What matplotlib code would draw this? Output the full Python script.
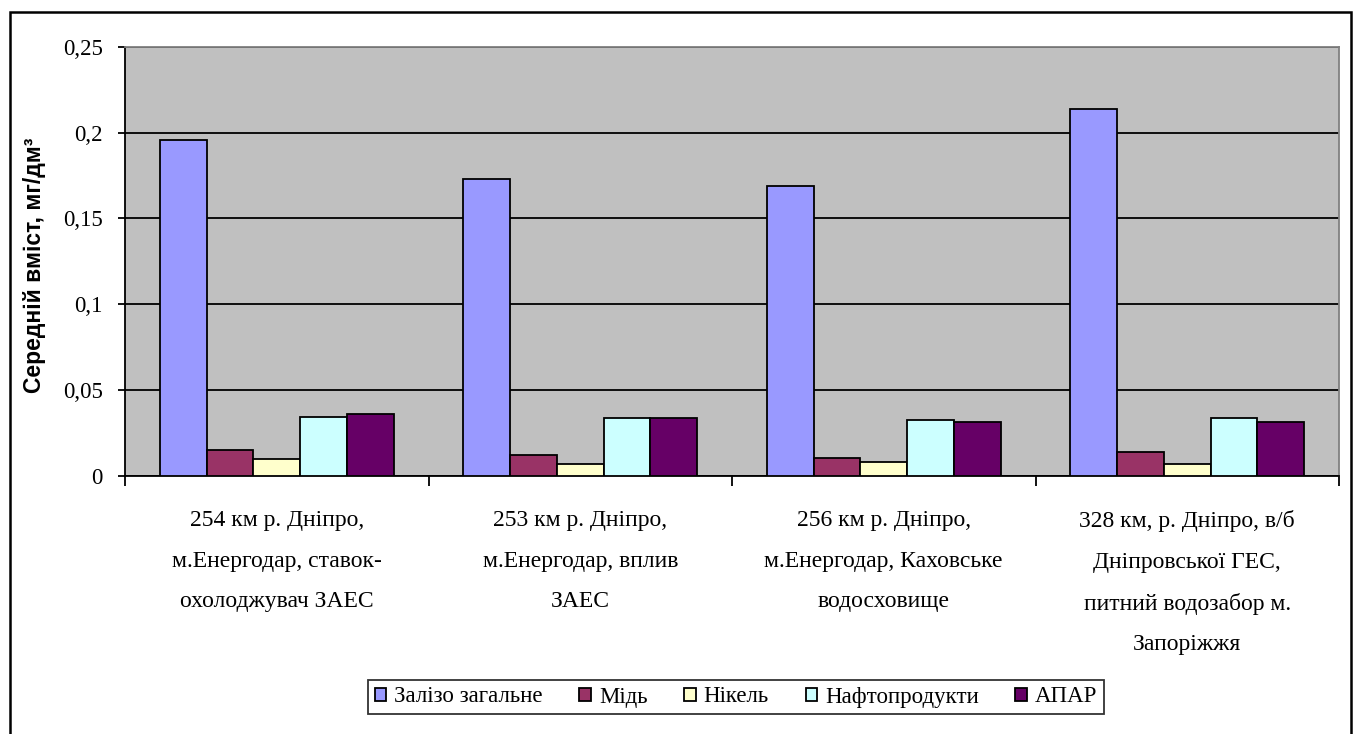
import matplotlib
matplotlib.use("Agg")
import matplotlib.pyplot as plt
import numpy as np
from matplotlib.patches import Rectangle

# Data
sites = [
    "254 км р. Дніпро,\nм.Енергодар, ставок-\nохолоджувач ЗАЕС",
    "253 км р. Дніпро,\nм.Енергодар, вплив\nЗАЕС",
    "256 км р. Дніпро,\nм.Енергодар, Каховське\nводосховище",
    "328 км, р. Дніпро, в/б\nДніпровської ГЕС,\nпитний водозабор м.\nЗапоріжжя",
]
series_names = ["Залізо загальне", "Мідь", "Нікель", "Нафтопродукти", "АПАР"]
iron = [0.196, 0.173, 0.169, 0.214]
copper = [0.015, 0.012, 0.0105, 0.0136]
nickel = [0.0096, 0.0066, 0.008, 0.0066]
oil = [0.034, 0.0338, 0.0323, 0.0338]
apar = [0.0358, 0.0338, 0.0313, 0.0313]
y_ticks = [0, 0.05, 0.1, 0.15, 0.2, 0.25]
y_tick_labels = ["0", "0,05", "0,1", "0,15", "0,2", "0,25"]

colors = ["#9999FF", "#993366", "#FFFFCC", "#CCFFFF", "#660066"]
series = [iron, copper, nickel, oil, apar]

serif = "Liberation Serif"

fig = plt.figure(figsize=(13.59, 7.34), dpi=100)
ax = fig.add_axes([125 / 1359, 1 - 475.7 / 734, (1339 - 125) / 1359, (475.7 - 47) / 734])
ax.set_facecolor("#C0C0C0")

x = np.arange(len(sites))
bar_w = 0.154
for i, (vals, col, name) in enumerate(zip(series, colors, series_names)):
    offset = (i - 2) * bar_w
    ax.bar(x + offset, vals, width=bar_w, color=col, edgecolor="black",
           linewidth=1.3, label=name, zorder=3)

ax.set_xlim(-0.5, len(sites) - 0.5)
ax.set_ylim(0, 0.25)

# gridlines
ax.set_yticks(y_ticks)
ax.set_yticklabels(y_tick_labels, fontfamily=serif, fontsize=16.5)
ax.yaxis.grid(True, color="black", linewidth=1.3, zorder=1)
ax.set_axisbelow(True)
ax.tick_params(axis="y", direction="out", length=5, width=1.3, pad=11, color="black")

# category boundaries as ticks, labels in the centres
ax.set_xticks(np.arange(-0.5, len(sites), 1.0))
ax.set_xticklabels([])
ax.tick_params(axis="x", which="major", direction="out", length=7, width=1.3)
ax.set_xticks(x, minor=True)
ax.set_xticklabels(sites, minor=True, fontfamily=serif, fontsize=17, linespacing=2.2,
                   va="top", ha="center")
ax.tick_params(axis="x", which="minor", length=0, pad=25)

for side in ["left", "bottom"]:
    ax.spines[side].set_color("black")
    ax.spines[side].set_linewidth(1.3)
for side in ["top", "right"]:
    ax.spines[side].set_color("#808080")
    ax.spines[side].set_linewidth(1.3)

fig.text(35 / 1359, 1 - 265 / 734, "Середній вміст, мг/дм³", rotation=90,
         ha="center", va="center", fontfamily="Liberation Sans",
         fontweight="bold", fontsize=16.5)

leg = fig.legend(loc="center", bbox_to_anchor=(736 / 1359, 1 - 697 / 734), ncol=5,
                 prop={"family": serif, "size": 16.5}, frameon=True, fancybox=False,
                 handlelength=0.5, handleheight=0.5, handletextpad=0.35,
                 columnspacing=1.6, borderpad=0.3)
leg.get_frame().set_edgecolor("black")
leg.get_frame().set_linewidth(1.3)

# outer chart frame
fig.patches.append(Rectangle((10 / 1359, -0.05), (1351 - 10) / 1359, 0.05 + 1 - 12 / 734,
                             transform=fig.transFigure, fill=False, edgecolor="black",
                             linewidth=1.8, clip_on=False))

fig.savefig("out.png", dpi=100)
